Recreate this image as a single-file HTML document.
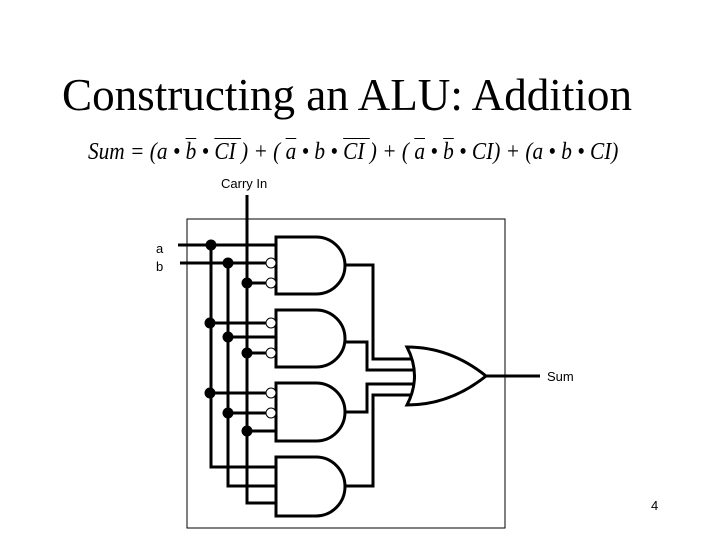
<!DOCTYPE html>
<html><head><style>body{margin:0;background:#fff}svg{display:block}
.eq{position:absolute;left:88px;top:138px;font-family:"Liberation Serif",serif;font-style:italic;font-size:24px;white-space:pre;line-height:28px;transform:scaleX(0.888);transform-origin:0 0}
.o{text-decoration:overline;text-decoration-thickness:1px}
</style></head><body>
<svg width="720" height="540" xmlns="http://www.w3.org/2000/svg">
<rect width="720" height="540" fill="#fff"/>
<text x="62" y="110" font-family="Liberation Serif, serif" font-size="46" textLength="570" lengthAdjust="spacingAndGlyphs">Constructing an ALU:  Addition</text>
<g font-family="Liberation Sans, sans-serif" font-size="13">
<text x="221" y="188">Carry In</text>
<text x="156" y="253">a</text><text x="156" y="271">b</text>
<text x="547" y="381">Sum</text>
<text x="651" y="510">4</text>
</g>
<rect x="187" y="219" width="318" height="309" fill="none" stroke="#000" stroke-width="1"/>
<g fill="none" stroke="#000" stroke-width="3">
<line x1="178" y1="245" x2="276" y2="245"/>
<line x1="180" y1="263" x2="266" y2="263"/>
<polyline points="247,195 247,503 276,503"/>
<polyline points="211,245 211,467 276,467"/>
<polyline points="228,263 228,486 276,486"/>
<line x1="247" y1="283" x2="266" y2="283"/>
<line x1="211" y1="323" x2="266" y2="323"/>
<line x1="228" y1="337" x2="276" y2="337"/>
<line x1="247" y1="353" x2="266" y2="353"/>
<line x1="211" y1="393" x2="266" y2="393"/>
<line x1="228" y1="413" x2="266" y2="413"/>
<line x1="247" y1="431" x2="276" y2="431"/>
<path d="M276,237 H316 A29,28.5 0 0 1 316,294 H276 Z"/>
<path d="M276,310 H316 A29,28.5 0 0 1 316,367 H276 Z"/>
<path d="M276,383 H316 A29,29 0 0 1 316,441 H276 Z"/>
<path d="M276,457 H316 A29,29.5 0 0 1 316,516 H276 Z"/>
<polyline points="345,265 373,265 373,359 413,359"/>
<polyline points="345,342 367,342 367,370 414,370"/>
<polyline points="345,412 367,412 367,384 414,384"/>
<polyline points="345,486 373,486 373,395 412,395"/>
<path d="M407,347 Q422,376 407,405 Q450,405 486,376 Q450,347 407,347 Z"/>
<line x1="486" y1="376" x2="540" y2="376"/>
</g>
<g fill="#fff" stroke="#000" stroke-width="1">
<circle cx="271" cy="263" r="5"/><circle cx="271" cy="283" r="5"/>
<circle cx="271" cy="323" r="5"/><circle cx="271" cy="353" r="5"/>
<circle cx="271" cy="393" r="5"/><circle cx="271" cy="413" r="5"/>
</g>
<g fill="#000">
<circle cx="211" cy="245" r="5.5"/><circle cx="228" cy="263" r="5.5"/><circle cx="247" cy="283" r="5.5"/>
<circle cx="210" cy="323" r="5.5"/><circle cx="228" cy="337" r="5.5"/><circle cx="247" cy="353" r="5.5"/>
<circle cx="210" cy="393" r="5.5"/><circle cx="228" cy="413" r="5.5"/><circle cx="247" cy="431" r="5.5"/>
</g>
</svg>
<div class="eq">Sum = (a • <span class="o">b</span> • <span class="o">CI </span>) + ( <span class="o">a</span> • b • <span class="o">CI </span>) + ( <span class="o">a</span> • <span class="o">b</span> • CI) + (a • b • CI)</div>
</body></html>
